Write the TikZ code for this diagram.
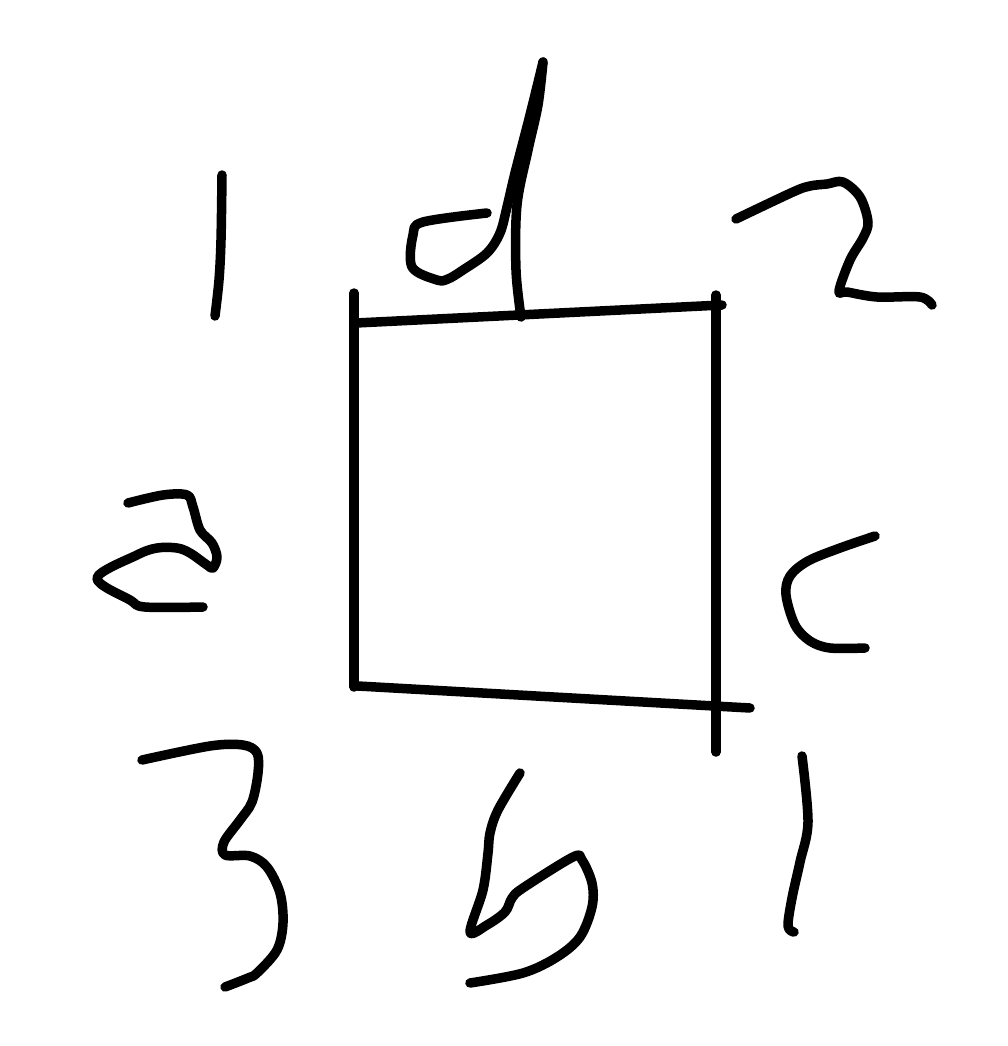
\documentclass[tikz,border=0pt]{standalone}
\begin{document}
\begin{tikzpicture}[x=1pt,y=-1pt,
  pen/.style={line width=9.5pt, line cap=round, line join=round, black},
  ink/.style={pen, smooth, tension=0.55}]
\useasboundingbox[fill=white] (0,0) rectangle (1008,1046);
% square
\draw[pen] (354,293) -- (354,687);
\draw[pen] (356,323) -- (722,305);
\draw[pen] (716,295) -- (716,752);
\draw[pen] (358,686) -- (750,708);
% 1 top-left
\draw[ink] plot coordinates {(222,175) (221,240) (219,280) (215,316)};
% d
\draw[ink] plot coordinates {(487,213) (423,222) (413,235) (412,267) (437,280) (448,279) (463,270) (487,253) (500,233) (507,207) (515,173) (530,115) (543,62)};
\draw[ink] plot coordinates {(543,62) (538,105) (528,150) (517,205) (516,270) (521,317)};
\fill (543,62) -- (530,115) -- (522,160) -- (528,150) -- (538,105) -- cycle;
% 2
\draw[ink] plot coordinates {(736,219) (793,192) (810,186) (827,184) (843,182) (860,197) (868,222) (863,238) (850,260) (839,291) (847,292) (877,297) (920,297) (932,305)};
% a
\draw[ink] plot coordinates {(128,503) (163,495) (187,495) (193,507) (200,530) (212,543) (217,557) (213,568) (207,565) (190,553) (177,548) (157,548) (137,555) (97,578) (130,600) (145,607) (203,607)};
% c
\draw[ink] plot coordinates {(875,536) (840,548) (808,561) (790,576) (786,595) (795,625) (810,641) (830,648) (865,648)};
% 3
\draw[ink] plot coordinates {(142,760) (210,746) (243,745) (257,753) (258,773) (252,802) (240,820) (224,842) (225,855) (250,856) (267,867) (280,893) (283,923) (277,950) (257,973) (248,978) (225,987)};
% b
\draw[ink] plot coordinates {(520,773) (498,810) (490,833) (488,853) (483,890) (470,932) (487,925) (505,912) (512,898) (523,888) (573,857) (582,860) (592,883) (592,907) (580,937) (557,957) (523,973) (470,983)};
% 1 bottom-right
\draw[ink] plot coordinates {(802,756) (808,822) (800,862) (792,898) (788,926) (794,932)};
\end{tikzpicture}
\end{document}
